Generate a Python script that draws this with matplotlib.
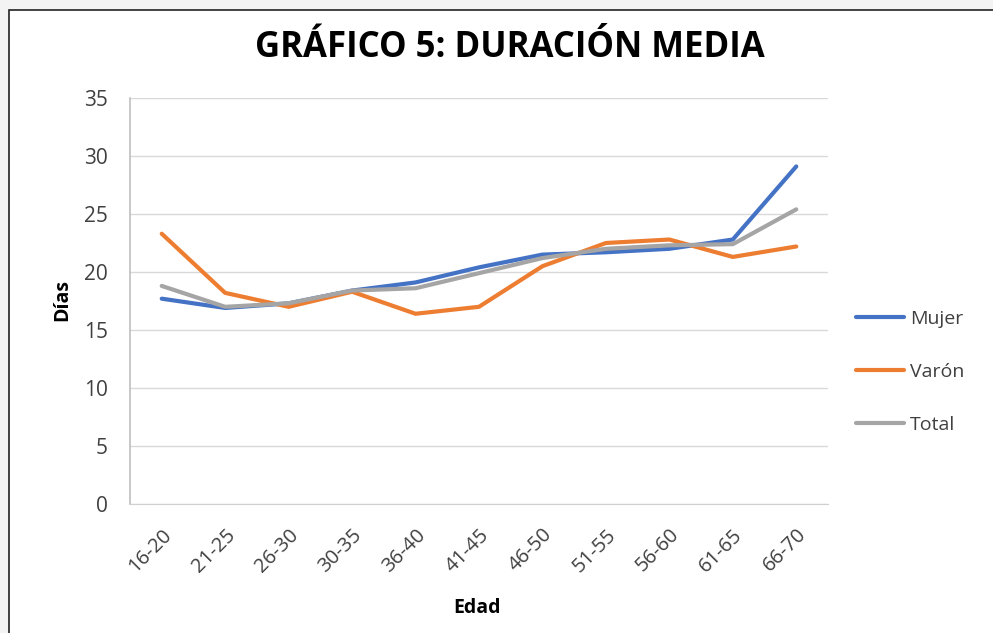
import matplotlib
matplotlib.use("Agg")
import matplotlib.pyplot as plt
from matplotlib.patches import Rectangle

categories = ["16-20", "21-25", "26-30", "30-35", "36-40", "41-45",
              "46-50", "51-55", "56-60", "61-65", "66-70"]
mujer = [17.7, 16.9, 17.3, 18.4, 19.1, 20.4, 21.5, 21.7, 22.0, 22.8, 29.1]
varon = [23.3, 18.2, 17.0, 18.3, 16.4, 17.0, 20.5, 22.5, 22.8, 21.3, 22.2]
total = [18.8, 17.0, 17.3, 18.4, 18.6, 19.9, 21.2, 22.0, 22.3, 22.4, 25.4]
yticks = [0, 5, 10, 15, 20, 25, 30, 35]

plt.rcParams['font.family'] = ['Open Sans', 'DejaVu Sans']

W, H = 993, 633
fig = plt.figure(figsize=(W / 100, H / 100), dpi=100)
fig.patch.set_facecolor('#f3f3f3')
fig.patches.append(Rectangle((9 / W, -0.1), 1.2, 1 - 10 / H + 0.1,
                             transform=fig.transFigure, facecolor='white',
                             edgecolor='#222222', linewidth=1.2, zorder=-10))

ax = fig.add_axes([130 / W, (H - 504) / H, (828 - 130) / W, (504 - 98) / H])
ax.set_facecolor('none')
x = list(range(len(categories)))
ax.plot(x, mujer, color='#4472C4', lw=3, label='Mujer', solid_capstyle='round')
ax.plot(x, varon, color='#ED7D31', lw=3, label='Varón', solid_capstyle='round')
ax.plot(x, total, color='#A5A5A5', lw=3, label='Total', solid_capstyle='round')

ax.set_xlim(-0.5, len(categories) - 0.5)
ax.set_ylim(0, 35)
ax.set_yticks(yticks)
ax.set_xticks(x)
ax.set_xticklabels(categories, rotation=45, ha='right', rotation_mode='anchor',
                   fontsize=14.5, color='#404040')
ax.tick_params(axis='y', labelsize=15, labelcolor='#404040', length=0, pad=16)
ax.tick_params(axis='x', length=0, pad=15)
ax.grid(axis='y', color='#d9d9d9', lw=1)
ax.set_axisbelow(True)
for s in ['top', 'right']:
    ax.spines[s].set_visible(False)
ax.spines['left'].set_color('#bfbfbf')
ax.spines['bottom'].set_color('#d0d0d0')
ax.spines['left'].set_linewidth(1.2)

fig.text(62 / W, 1 - 300 / H, 'Días', rotation=90, ha='center', va='center',
         fontsize=14, fontweight='bold', color='black')
fig.text(477 / W, 1 - 608 / H, 'Edad', ha='center', va='center',
         fontsize=14, fontweight='bold', color='black')

fig.text(510 / W, 1 - 48 / H, 'GRÁFICO 5: DURACIÓN MEDIA', ha='center', va='center',
         fontsize=25, fontweight='bold', color='black')

leg = ax.legend(loc='center left', bbox_to_anchor=(838 / W, 1 - 372 / H),
                bbox_transform=fig.transFigure, frameon=False, fontsize=14,
                handlelength=2.5, labelspacing=1.8, handletextpad=0.3)
for t in leg.get_texts():
    t.set_color('#404040')

fig.savefig('out.png', dpi=100, facecolor=fig.get_facecolor())
